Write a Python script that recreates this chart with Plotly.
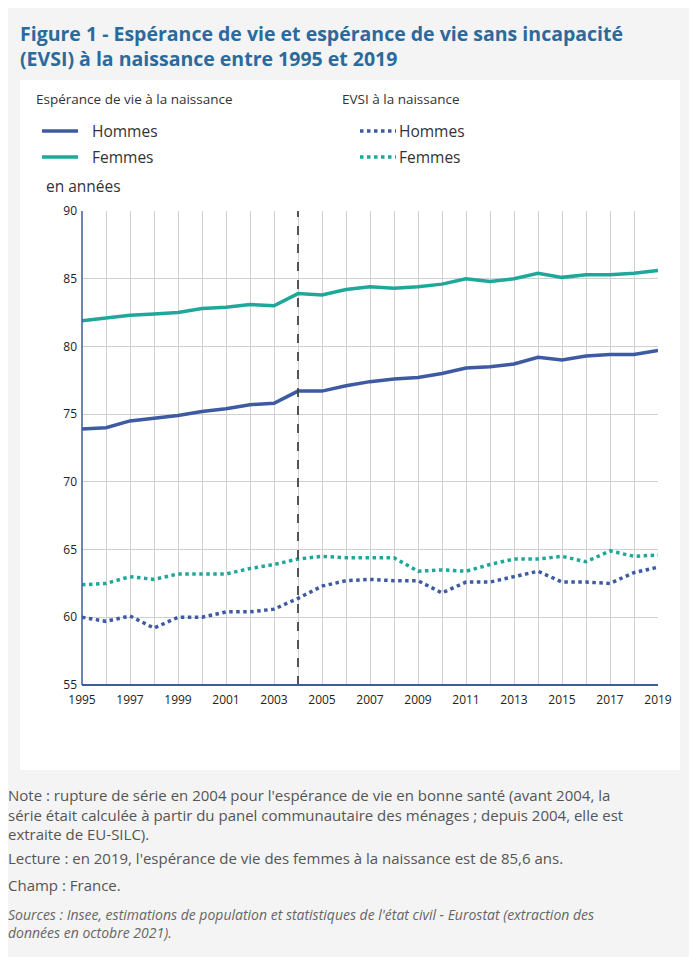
import plotly.graph_objects as go

years = list(range(1995, 2020))
le_femmes = [81.9,82.1,82.3,82.4,82.5,82.8,82.9,83.1,83.0,83.9,83.8,84.2,84.4,84.3,84.4,84.6,85.0,84.8,85.0,85.4,85.1,85.3,85.3,85.4,85.6]
le_hommes = [73.9,74.0,74.5,74.7,74.9,75.2,75.4,75.7,75.8,76.7,76.7,77.1,77.4,77.6,77.7,78.0,78.4,78.5,78.7,79.2,79.0,79.3,79.4,79.4,79.7]
evsi_femmes = [62.4,62.5,63.0,62.8,63.2,63.2,63.2,63.6,63.9,64.3,64.5,64.4,64.4,64.4,63.4,63.5,63.4,63.9,64.3,64.3,64.5,64.1,64.9,64.5,64.6]
evsi_hommes = [60.0,59.7,60.1,59.2,60.0,60.0,60.4,60.4,60.6,61.4,62.3,62.7,62.8,62.7,62.7,61.8,62.6,62.6,63.0,63.4,62.6,62.6,62.5,63.3,63.7]

BLUE = "#3d5aa3"
TEAL = "#1fa89a"
W, H = 697, 957
OFF = 8
L, R, T, B = 82 - OFF, 658 - OFF, 211 - OFF, 685 - OFF
def px(X): return (X - OFF - L) / (R - L)
def py(Y): return (B - (Y - OFF)) / (B - T)

fig = go.Figure()
fig.add_trace(go.Scatter(x=years, y=evsi_femmes, mode="lines", line=dict(color=TEAL, width=3.5, dash="dot")))
fig.add_trace(go.Scatter(x=years, y=evsi_hommes, mode="lines", line=dict(color=BLUE, width=3.5, dash="dot")))
fig.add_trace(go.Scatter(x=years, y=le_femmes, mode="lines", line=dict(color=TEAL, width=3.5)))
fig.add_trace(go.Scatter(x=years, y=le_hommes, mode="lines", line=dict(color=BLUE, width=3.5)))

shapes = [
    dict(type="rect", xref="paper", yref="paper", x0=px(20), x1=px(680), y0=py(770), y1=py(80),
         fillcolor="white", line=dict(width=0), layer="below"),
    dict(type="line", x0=2004, x1=2004, y0=55, y1=90, xref="x", yref="y",
         line=dict(color="#444", width=1.8, dash="dash")),
    dict(type="line", xref="paper", yref="paper", x0=0, x1=1, y0=0, y1=0, line=dict(color=BLUE, width=2)),
    dict(type="line", xref="paper", yref="paper", x0=0, x1=0, y0=0, y1=1, line=dict(color=BLUE, width=1.5)),
]
for (x0, y, col, dash) in [(42, 131, BLUE, "solid"), (42, 157, TEAL, "solid"), (360, 131, BLUE, "dot"), (360, 157, TEAL, "dot")]:
    shapes.append(dict(type="line", xref="paper", yref="paper", x0=px(x0), x1=px(x0 + 36), y0=py(y), y1=py(y),
                       line=dict(color=col, width=3.5, dash=dash)))

def ann(X, Y, text, size=13, color="#333"):
    return dict(xref="paper", yref="paper", x=px(X), y=py(Y), text=text, showarrow=False, xanchor="left",
                yanchor="middle", align="left", font=dict(size=size, color=color, family="Open Sans"))

NOTE = "#555"
annotations = [
    dict(xref="paper", yref="paper", x=px(18), y=py(18), text="<b>Figure 1 - Espérance de vie et espérance de vie sans incapacité<br>(EVSI) à la naissance entre 1995 et 2019</b>",
         showarrow=False, xanchor="left", yanchor="top", align="left", font=dict(size=19.5, color="#2b6a9c", family="Open Sans")),
    ann(34, 99, "Espérance de vie à la naissance", 13.5),
    ann(340, 99, "EVSI à la naissance", 13.5),
    ann(90, 131, "Hommes", 15.5), ann(90, 157, "Femmes", 15.5),
    ann(397, 131, "Hommes", 15.5), ann(397, 157, "Femmes", 15.5),
    ann(44, 186, "en années", 15.5),
    dict(xref="paper", yref="paper", x=px(6), y=py(783), text="Note : rupture de série en 2004 pour l'espérance de vie en bonne santé (avant 2004, la<br>série était calculée à partir du panel communautaire des ménages ; depuis 2004, elle est<br>extraite de EU-SILC).",
         showarrow=False, xanchor="left", yanchor="top", align="left", font=dict(size=15, color=NOTE, family="Open Sans")),
    ann(6, 858, "Lecture : en 2019, l'espérance de vie des femmes à la naissance est de 85,6 ans.", 15, NOTE),
    ann(6, 885, "Champ : France.", 15, NOTE),
    dict(xref="paper", yref="paper", x=px(6), y=py(903), text="<i>Sources : Insee, estimations de population et statistiques de l'état civil - Eurostat (extraction des<br>données en octobre 2021).</i>",
         showarrow=False, xanchor="left", yanchor="top", align="left", font=dict(size=14, color="#666", family="Open Sans")),
]

fig.update_layout(
    width=W, height=H, showlegend=False,
    paper_bgcolor="#f4f4f4", plot_bgcolor="white",
    margin=dict(l=L, r=W - R, t=T, b=H - B),
    shapes=shapes, annotations=annotations,
    font=dict(family="Open Sans", color="#222"),
    xaxis=dict(range=[1995, 2019], tickvals=list(range(1995, 2020, 2)), showgrid=True, gridcolor="#d0d0d0",
               zeroline=False, tickfont=dict(size=12), ticks="", ticklabelstandoff=6),
    yaxis=dict(range=[55, 90], tickvals=[55, 60, 65, 70, 75, 80, 85, 90], gridcolor="#d0d0d0", zeroline=False,
               tickfont=dict(size=12), ticklabelstandoff=4),
)
fig.update_xaxes(minor=dict(dtick=1, showgrid=True, gridcolor="#d0d0d0"))
fig.write_html("out.html")
